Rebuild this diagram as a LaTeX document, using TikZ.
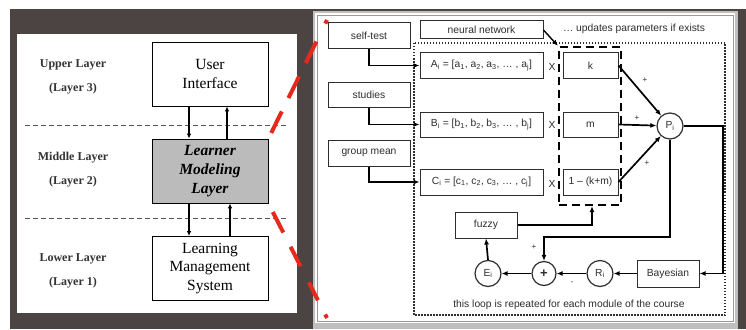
\documentclass[tikz,border=0pt]{standalone}
\usepackage{fontspec}
\setmainfont{Liberation Serif}
\newfontfamily\arialfont{Liberation Sans}
\usetikzlibrary{arrows.meta}
\definecolor{darkbg}{HTML}{4B4442}
\definecolor{lmgray}{HTML}{BBBBBB}
\definecolor{redline}{HTML}{E42A1D}
\definecolor{inkgray}{HTML}{2E2E2E}
\begin{document}
\begin{tikzpicture}[x=1pt,y=-1pt,
  lyr/.style={draw=black, line width=0.8pt, minimum width=116pt, minimum height=64pt,
    inner sep=0pt, align=center, font=\fontsize{15.5}{18.5}\selectfont},
  lbl/.style={align=center, text=black!80, font=\bfseries\fontsize{12}{24}\selectfont},
  larr/.style={draw=black, line width=1.3pt, -{Latex[length=5pt,width=4.5pt]}},
  sep/.style={draw=black!65, line width=1pt, dash pattern=on 5pt off 3pt},
  reddash/.style={draw=redline, line width=4pt},
  sbox/.style={draw=inkgray, line width=1pt, inner sep=0pt, text=inkgray,
    font=\arialfont\fontsize{10.3}{12}\selectfont},
  stxt/.style={inner sep=0pt, text=inkgray, font=\arialfont\fontsize{10.3}{12}\selectfont},
  sign/.style={inner sep=0pt, text=inkgray, font=\arialfont\fontsize{8}{9}\selectfont},
  circ/.style={circle, draw=inkgray, line width=1.2pt, minimum size=26pt, inner sep=0pt,
    text=inkgray, font=\arialfont\fontsize{10.3}{12}\selectfont},
  rarr/.style={draw=black, line width=1.7pt, -{Latex[length=6pt,width=5pt]}},
  dotted box/.style={draw=inkgray, line width=1.8pt, dash pattern=on 1.5pt off 1.5pt},
  dashgroup/.style={draw=black, line width=2.2pt, dash pattern=on 8pt off 5pt}
]
\useasboundingbox (0,0) rectangle (746,329);

% backdrop and the two panels
\fill[white] (0,0) rectangle (746,329);
\fill[darkbg] (10,9) rectangle (746,329);
\fill[white] (17,34) rectangle (297,313);
\fill[black!25] (313,11) rectangle (738,329);
\fill[white] (315,13) rectangle (735,323);
\draw[black!40, line width=0.8pt] (317,15) rectangle (733,321);

% ---------------- layered architecture ----------------
\node[lbl] (l3) at (73,77) {Upper Layer\\(Layer 3)};
\node[lbl] (l2) at (73,169.5) {Middle Layer\\(Layer 2)};
\node[lbl] (l1) at (73,270.5) {Lower Layer\\(Layer 1)};

\draw[sep] (25,125) -- (287,125);
\draw[sep] (25,218) -- (287,218);

\node[lyr] (ui) at (210,74) {User\\Interface};
\node[lyr, fill=lmgray, font=\bfseries\itshape\fontsize{15.5}{19}\selectfont] (lml) at (210,171) {Learner\\Modeling\\Layer};
\node[lyr] (lms) at (210,268.5) {Learning\\Management\\System};

\draw[larr] ([xshift=-21pt]ui.south) -- ([xshift=-21pt]lml.north);
\draw[larr] ([xshift=17pt]lml.north) -- ([xshift=17pt]ui.south);
\draw[larr] ([xshift=-21pt]lml.south) -- ([xshift=-21pt]lms.north);
\draw[larr] ([xshift=20pt]lms.north) -- ([xshift=20pt]lml.south);

% ---------------- learner model detail ----------------
\draw[dotted box] (414,43) rectangle (725,315);

\node[sbox, minimum width=82pt, minimum height=26pt] (st) at (369,36) {self-test};
\node[sbox, minimum width=82pt, minimum height=25pt] (sd) at (369,94.5) {studies};
\node[sbox, minimum width=82pt, minimum height=26pt] (gm) at (369,153) {group mean};

\node[sbox, minimum width=123pt, minimum height=18pt] (nn) at (481.5,30) {neural network};
\node[stxt] (upd) at (634,29) {\dots\ updates parameters if exists};

\node[sbox, minimum width=123pt, minimum height=25pt] (va) at (481.5,65.5)
  {A\textsubscript{i} = [a\textsubscript{1}, a\textsubscript{2}, a\textsubscript{3}, \dots\ , a\textsubscript{j}]};
\node[sbox, minimum width=123pt, minimum height=25pt] (vb) at (481.5,124.5)
  {B\textsubscript{i} = [b\textsubscript{1}, b\textsubscript{2}, b\textsubscript{3}, \dots\ , b\textsubscript{j}]};
\node[sbox, minimum width=123pt, minimum height=26pt] (vc) at (481.5,182)
  {C\textsubscript{i} = [c\textsubscript{1}, c\textsubscript{2}, c\textsubscript{3}, \dots\ , c\textsubscript{j}]};

\node[stxt] (xa) at (552,67) {X};
\node[stxt] (xb) at (552,125) {X};
\node[stxt] (xc) at (552,184) {X};

\node[sbox, minimum width=55pt, minimum height=25pt] (wk) at (590.5,65.5) {k};
\node[sbox, minimum width=55pt, minimum height=25pt] (wm) at (590.5,124.5) {m};
\node[sbox, minimum width=55pt, minimum height=26pt] (wr) at (590.5,182) {1 – (k+m)};
\node[dashgroup, minimum width=62pt, minimum height=158pt, inner sep=0pt] (grp) at (590,126) {};

\node[circ] (P) at (670,126) {P\textsubscript{i}};
\node[sbox, minimum width=62pt, minimum height=27pt] (bay) at (668,273.5) {Bayesian};
\node[circ] (R) at (600,273.5) {R\textsubscript{i}};
\node[circ, minimum size=24pt, font=\arialfont\bfseries\fontsize{13}{13}\selectfont] (sum) at (544,273.5) {+};
\node[circ] (E) at (488,273.5) {E\textsubscript{i}};
\node[sbox, minimum width=62pt, minimum height=26pt] (fz) at (486,225) {fuzzy};

\node[stxt] (note) at (569,305) {this loop is repeated for each module of the course};

% inputs into the vectors
\draw[rarr] (st.south) |- (va.west);
\draw[rarr] (sd.south) |- (vb.west);
\draw[rarr] (gm.south) |- (vc.west);

% parameter updates
\draw[rarr, line width=1.4pt] (nn.east) -- (grp.north west);
\draw[rarr] (fz.east) -| ([xshift=2pt]grp.south);

% weighted sum
\draw[rarr] (wk.east) -- (P);
\draw[rarr] (wm.east) -- (P);
\draw[rarr] (wr.east) -- (P);
\node[sign] (pk) at (645,80) {+};
\node[sign] (pm) at (637,118) {+};
\node[sign] (pr) at (647,163) {+};

% feedback loop
\coordinate (pc) at (723,126);
\coordinate (fb) at (670,237);
\draw[rarr] (P.east) -- (pc) |- (bay.east);
\draw[rarr] (P.south) -- (fb) -| (sum.north);
\draw[rarr] (bay.west) -- (R.east);
\draw[rarr] (R.west) -- (sum.east);
\draw[rarr] (sum.west) -- (E.east);
\draw[rarr] (E.north) -- (fz.south);
\node[sign] (ps) at (534,247) {+};
\node[sign] (ms) at (572,283) {-};

% zoom lines from the middle layer to the detail panel
\coordinate (zt) at (327,20);
\coordinate (zb) at (327,318);
\draw[reddash, dash pattern=on 4pt off 20pt on 24pt off 15pt on 24pt off 15pt on 24pt off 60pt]
  (zt) -- (lml.north east);
\draw[reddash, dash pattern=on 4pt off 16pt on 20pt off 18pt on 22pt off 16pt on 23pt off 60pt]
  (zb) -- (lml.south east);
\end{tikzpicture}
\end{document}
